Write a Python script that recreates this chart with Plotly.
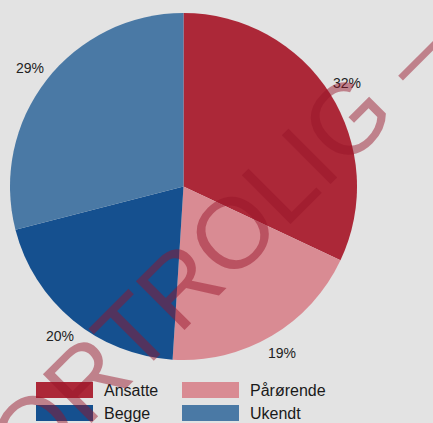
import math
import plotly.graph_objects as go

# ---- data ----
categories = ["Ansatte", "Pårørende", "Begge", "Ukendt"]
values = [32, 19, 20, 29]
colors = ["#ac2838", "#d98b93", "#15508f", "#4a79a5"]
watermark_text = "FORTROLIG – UDKAST"

W, H = 433, 423
BG = "#e3e3e3"
FONT = "Liberation Sans, Arial, sans-serif"

def px_x(x):
    return x / W

def px_y(y):
    return 1 - y / H

# pie geometry (pixels)
CX, CY, R = 183.5, 186.5, 173.5
LABEL_R = 194

fig = go.Figure()
fig.add_trace(go.Pie(
    labels=categories,
    values=values,
    sort=False,
    direction="clockwise",
    rotation=0,
    marker=dict(colors=colors, line=dict(width=0)),
    textinfo="none",
    showlegend=False,
    hoverinfo="label+percent",
    domain=dict(x=[px_x(CX - R), px_x(CX + R)], y=[px_y(CY + R), px_y(CY - R)]),
))

shapes = []
annotations = []

# percentage labels outside the slices
total = sum(values)
cum = 0
for v in values:
    mid = (cum + v / 2) / total * 2 * math.pi
    cum += v
    lx = CX + LABEL_R * math.sin(mid)
    ly = CY - LABEL_R * math.cos(mid)
    annotations.append(dict(text=f"{round(v / total * 100)}%", xref="paper", yref="paper",
                            x=px_x(lx), y=px_y(ly), xanchor="center", yanchor="middle",
                            showarrow=False,
                            font=dict(family=FONT, size=14, color="#222222")))

# legend
col_x = [36, 182]
row_y = [382, 405]
rect_w, rect_h = 57, 16
for i, (cat, col) in enumerate(zip(categories, colors)):
    r, c = divmod(i, 2)
    x0 = col_x[c]
    y0 = row_y[r]
    shapes.append(dict(type="rect", xref="paper", yref="paper",
                       x0=px_x(x0), x1=px_x(x0 + rect_w),
                       y0=px_y(y0 + rect_h), y1=px_y(y0),
                       fillcolor=col, line=dict(width=0), layer="above"))
    annotations.append(dict(text=cat, xref="paper", yref="paper",
                            x=px_x(x0 + rect_w + 9), y=px_y(y0 + rect_h / 2),
                            xanchor="left", yanchor="middle", showarrow=False,
                            font=dict(family=FONT, size=16, color="#1a1a1a")))

# watermark
annotations.append(dict(text=watermark_text, xref="paper", yref="paper",
                        x=px_x(351), y=px_y(114), xanchor="center", yanchor="middle",
                        showarrow=False, textangle=-45,
                        font=dict(family=FONT, size=100, color="rgba(150,20,40,0.47)")))

fig.update_layout(
    width=W, height=H,
    margin=dict(l=0, r=0, t=0, b=0),
    paper_bgcolor=BG, plot_bgcolor=BG,
    shapes=shapes, annotations=annotations,
)

fig.write_html("out.html", config={"displayModeBar": False},
               post_script="document.body.style.margin='0';document.body.style.overflow='hidden';")
